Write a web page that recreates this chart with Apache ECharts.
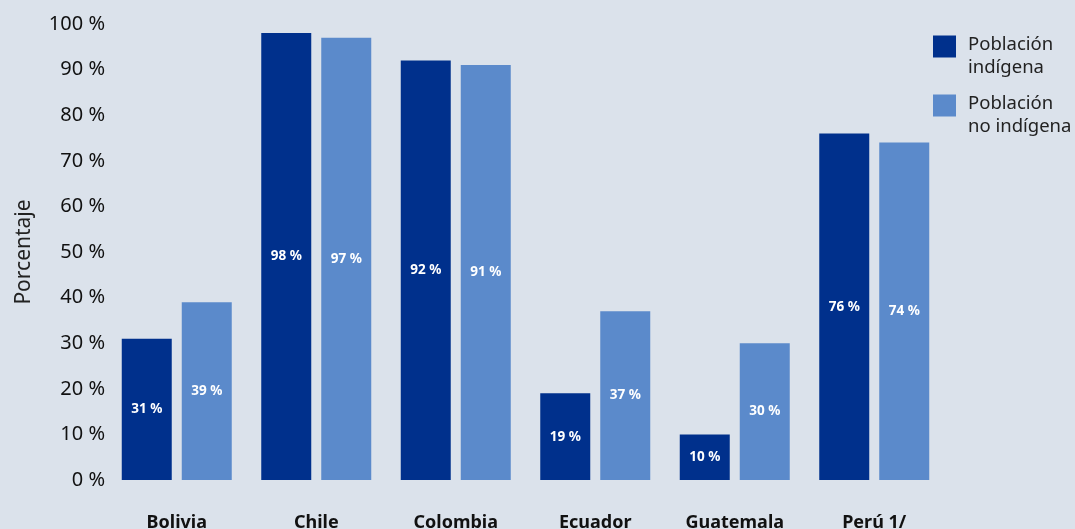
<!DOCTYPE html>
<html>
<head>
<meta charset="utf-8">
<script src="https://cdn.jsdelivr.net/npm/echarts@6/dist/echarts.min.js"></script>
<style>
  html, body { margin: 0; padding: 0; background: #dbe2eb; }
  #chart { width: 1075px; height: 529px; }
</style>
</head>
<body>
<div id="chart"></div>
<script>
// Share of population by country, indigenous vs non-indigenous
const countries = ['Bolivia', 'Chile', 'Colombia', 'Ecuador', 'Guatemala', 'Perú 1/'];
const indigena = [31, 98, 92, 19, 10, 76];
const noIndigena = [39, 97, 91, 37, 30, 74];
const seriesNames = ['Población\nindígena', 'Población\nno indígena'];
const yTicks = [0, 10, 20, 30, 40, 50, 60, 70, 80, 90, 100];

const FONT = '"Noto Sans", "Open Sans", sans-serif';
const chart = echarts.init(document.getElementById('chart'));

const barLabel = {
  show: true,
  position: 'inside',
  color: '#ffffff',
  fontFamily: FONT,
  fontWeight: 'bold',
  fontSize: 13.5,
  formatter: p => p.value + ' %'
};

// Two-line legend entries: the first line sits level with the swatch,
// the second hangs below it.
const legendFormatter = name => {
  const [first, second] = name.split('\n');
  return '{l1|' + first + '}\n{l2|' + second + '}';
};
const legendText = { fontFamily: FONT, fontSize: 18.5, color: '#222', padding: [0, 0, 0, 7] };

chart.setOption({
  backgroundColor: '#dbe2eb',
  animation: false,
  grid: { left: 107, right: 131, top: 24, bottom: 49, outerBoundsMode: 'none' },
  legend: {
    orient: 'vertical',
    left: 928,
    top: 30,
    itemWidth: 23,
    itemHeight: 22,
    itemGap: 17,
    icon: 'rect',
    formatter: legendFormatter,
    textStyle: {
      fontFamily: FONT,
      fontSize: 18.5,
      color: '#222',
      rich: {
        l1: Object.assign({ lineHeight: 42 }, legendText),
        l2: Object.assign({ lineHeight: 4 }, legendText)
      }
    },
    data: seriesNames
  },
  xAxis: {
    type: 'category',
    data: countries,
    axisLine: { show: false },
    axisTick: { show: false },
    axisLabel: {
      margin: 34,
      fontFamily: FONT,
      fontWeight: 'bold',
      fontSize: 18,
      color: '#111'
    }
  },
  yAxis: {
    type: 'value',
    min: yTicks[0],
    max: yTicks[yTicks.length - 1],
    interval: 10,
    name: 'Porcentaje',
    nameLocation: 'middle',
    nameGap: 72,
    nameRotate: 90,
    nameTextStyle: { fontFamily: FONT, fontSize: 21, color: '#222' },
    axisLine: { show: false },
    axisTick: { show: false },
    splitLine: { show: false },
    axisLabel: {
      margin: 2,
      fontFamily: FONT,
      fontSize: 20,
      color: '#111',
      formatter: '{value} %'
    }
  },
  series: [
    {
      name: seriesNames[0],
      type: 'bar',
      data: indigena,
      barWidth: 50,
      barGap: '20%',
      itemStyle: { color: '#00308c' },
      label: barLabel
    },
    {
      name: seriesNames[1],
      type: 'bar',
      data: noIndigena,
      barWidth: 50,
      itemStyle: { color: '#5b8acb' },
      label: barLabel
    }
  ]
});
</script>
</body>
</html>
